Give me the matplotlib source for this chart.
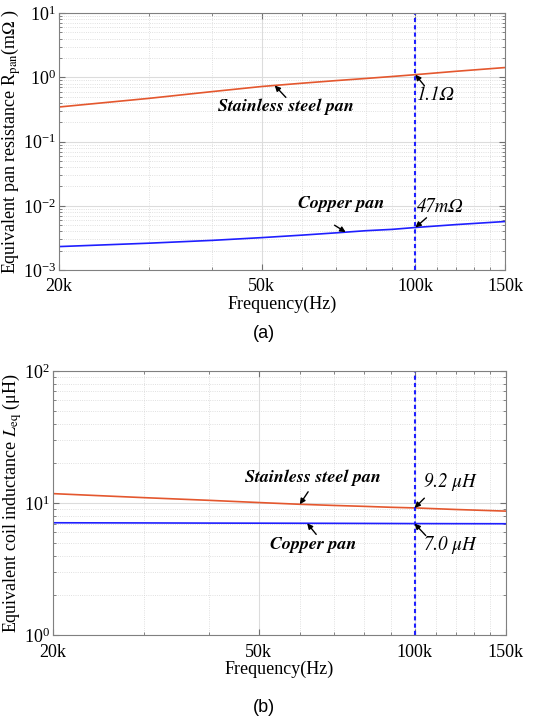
import numpy as np
import matplotlib
matplotlib.use("Agg")
import matplotlib.pyplot as plt
from matplotlib.ticker import FixedLocator, LogLocator, NullFormatter

plt.rcParams['font.family'] = ['Liberation Serif', 'DejaVu Serif']
plt.rcParams['mathtext.fontset'] = 'stix'

# Frequencies (Hz)
freq = [20e3, 30e3, 40e3, 50e3, 60e3, 70e3, 80e3, 90e3, 100e3, 120e3, 150e3]

# (a) equivalent pan resistance (mOhm)
r_steel = [0.345, 0.47, 0.60, 0.72, 0.81, 0.89, 0.96, 1.03, 1.10, 1.24, 1.42]
r_copper = [0.00232, 0.00262, 0.0029, 0.0032, 0.0035, 0.0038, 0.0041, 0.0043, 0.0046, 0.0051, 0.0057]

# (b) equivalent coil inductance (uH)
l_steel = [11.8, 11.0, 10.5, 10.1, 9.8, 9.6, 9.45, 9.3, 9.2, 8.95, 8.7]
l_copper = [7.10, 7.08, 7.06, 7.05, 7.04, 7.03, 7.02, 7.01, 7.00, 6.99, 6.98]

xticks = [20e3, 50e3, 100e3, 150e3]
xticklabels = ['20k', '50k', '100k', '150k']
xminor = [30e3, 40e3, 60e3, 70e3, 80e3, 90e3, 110e3, 120e3, 130e3, 140e3]
f_mark = 100e3

orange = '#e4572e'
blue = '#1f1fff'

fig = plt.figure(figsize=(5.45, 7.26), dpi=100)
ax1 = fig.add_axes([0.108, 0.628, 0.819, 0.354])
ax2 = fig.add_axes([0.097, 0.125, 0.831, 0.364])


def style(ax, ylim):
    ax.set_xscale('log')
    ax.set_yscale('log')
    ax.set_xlim(20e3, 150e3)
    ax.set_ylim(*ylim)
    ax.xaxis.set_major_locator(FixedLocator(xticks))
    ax.set_xticklabels(xticklabels)
    ax.xaxis.set_minor_locator(FixedLocator(xminor))
    ax.xaxis.set_minor_formatter(NullFormatter())
    ax.yaxis.set_major_locator(LogLocator(base=10, numticks=10))
    ax.yaxis.set_minor_locator(LogLocator(base=10, subs=np.arange(2, 10), numticks=20))
    ax.yaxis.set_minor_formatter(NullFormatter())
    ax.grid(True, which='major', color='#dcdcdc', lw=0.8)
    ax.grid(True, which='minor', color='#d6d6d6', lw=0.6, ls=':')
    ax.tick_params(which='both', direction='in', colors='#707070', labelcolor='black',
                   labelsize=13, top=True, right=True)
    ax.tick_params(which='major', length=4)
    ax.tick_params(axis='x', which='major', pad=6)
    ax.tick_params(axis='y', which='major', pad=2)
    ax.tick_params(which='minor', length=2)
    for s in ax.spines.values():
        s.set_color('#808080')
    ax.set_xlabel('Frequency(Hz)', fontsize=13, labelpad=0)
    ax.set_axisbelow(True)


arrow = dict(arrowstyle='-|>', color='black', lw=1.0, mutation_scale=8,
             shrinkA=0, shrinkB=0)
lab = dict(fontsize=13, fontweight='bold', style='italic', family='STIXGeneral',
           ha='center', va='center')
val = dict(fontsize=13.5, style='italic', family='STIXGeneral', ha='center', va='center')

# (a)
ax1.plot(freq, r_steel, color=orange, lw=1.2)
ax1.plot(freq, r_copper, color=blue, lw=1.2)
ax1.axvline(f_mark, color=blue, ls=(0, (2, 1.5)), lw=1.5)
style(ax1, (1e-3, 1e1))
ax1.set_ylabel('Equivalent pan resistance R$_{\\mathrm{pan}}$(m$\\Omega$ )', fontsize=13, labelpad=0)

ax1.text(0.509, 0.634, 'Stainless steel pan', transform=ax1.transAxes, **lab)
ax1.text(0.632, 0.257, 'Copper pan', transform=ax1.transAxes, **lab)
ax1.text(0.843, 0.681, '1.1Ω', transform=ax1.transAxes, **val)
ax1.text(0.854, 0.245, '47mΩ', transform=ax1.transAxes, **val)

ax1.annotate('', xy=(53e3, np.interp(53e3, freq, r_steel)), xytext=(8, -8.6),
             textcoords='offset points', arrowprops=arrow)
ax1.annotate('', xy=(f_mark, np.interp(f_mark, freq, r_steel)), xytext=(6.5, -8),
             textcoords='offset points', arrowprops=arrow)
ax1.annotate('', xy=(73e3, np.interp(73e3, freq, r_copper)), xytext=(-8, 5),
             textcoords='offset points', arrowprops=arrow)
ax1.annotate('', xy=(f_mark, np.interp(f_mark, freq, r_copper)), xytext=(8, 7),
             textcoords='offset points', arrowprops=arrow)

# (b)
ax2.plot(freq, l_steel, color=orange, lw=1.2)
ax2.plot(freq, l_copper, color=blue, lw=1.2)
ax2.axvline(f_mark, color=blue, ls=(0, (2, 1.5)), lw=1.5)
style(ax2, (1, 100))
ax2.set_ylabel('Equivalent coil inductance $L_{\\mathrm{eq}}$ (μH)', fontsize=13, labelpad=0)

ax2.text(0.574, 0.595, 'Stainless steel pan', transform=ax2.transAxes, **lab)
ax2.text(0.576, 0.341, 'Copper pan', transform=ax2.transAxes, **lab)
ax2.text(0.876, 0.58, '9.2 μH', transform=ax2.transAxes, **val)
ax2.text(0.876, 0.341, '7.0 μH', transform=ax2.transAxes, **val)

ax2.annotate('', xy=(60e3, np.interp(60e3, freq, l_steel)), xytext=(6, 9),
             textcoords='offset points', arrowprops=arrow)
ax2.annotate('', xy=(62e3, np.interp(62e3, freq, l_copper)), xytext=(6.5, -8),
             textcoords='offset points', arrowprops=arrow)
ax2.annotate('', xy=(f_mark, np.interp(f_mark, freq, l_steel)), xytext=(7, 7),
             textcoords='offset points', arrowprops=arrow)
ax2.annotate('', xy=(f_mark, np.interp(f_mark, freq, l_copper)), xytext=(8, -8.6),
             textcoords='offset points', arrowprops=arrow)

fig.text(0.485, 1 - 333 / 726, '(a)', fontsize=13, family='Liberation Sans', ha='center', va='center')
fig.text(0.485, 1 - 708 / 726, '(b)', fontsize=13, family='Liberation Sans', ha='center', va='center')

fig.savefig('out.png', dpi=100)
